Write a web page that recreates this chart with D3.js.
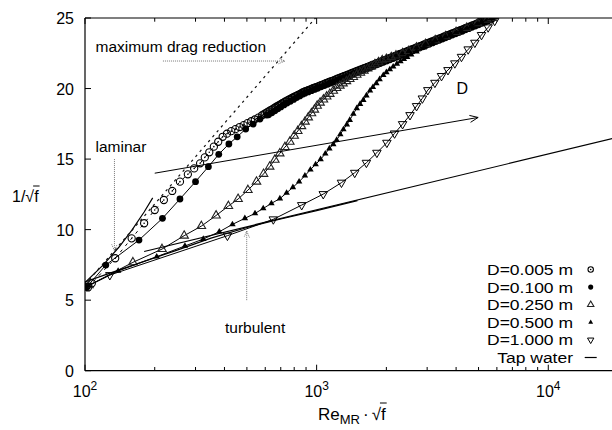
<!DOCTYPE html>
<html>
<head>
<meta charset="utf-8">
<title>Drag reduction</title>
<script src="https://d3js.org/d3.v7.min.js"></script>
<style>
  body { margin: 0; background: #fff; }
  text { font-family: "Liberation Sans", Arial, sans-serif; fill: #000; }
</style>
</head>
<body>
<svg id="chart" width="612" height="430"></svg>
<script>
// each point: [Re_MR * sqrt(f), 1/sqrt(f)]
var d005 = [[103,5.9],[107,6.2],[135,7.97],[159,9.38],[180,10.45],[200,11.39],[219,12.1],[238,12.74],[257,13.4],[278,13.92],
  [296,14.34],[314,14.7],[329,15.12],[344,15.48],[360,15.88],[376,16.23],[393,16.58],[410,16.8],[428,16.98],[446,17.12],
  [465,17.27],[484,17.41],[503,17.55],[522,17.68],[541,17.81],[560,17.94],[580,18.1],[590,18.17],[600,18.24],[610,18.31],
  [620,18.38],[630,18.45],[640,18.51],[650,18.58],[660,18.64],[670,18.71],[680,18.77],[690,18.83],[700,18.89],[711,18.96],
  [722,19.02],[733,19.08],[745,19.14],[757,19.21],[770,19.27],[782,19.33],[795,19.39],[807,19.45],[820,19.5],[832,19.55],
  [845,19.6],[857,19.66],
  [870,19.72],[880,19.75],[890,19.79],[905,19.84],[920,19.88],[935,19.93],[950,19.97],[965,20.02],[980,20.06],[995,20.1],
  [1010,20.14],[1027,20.19],[1045,20.24],[1062,20.28],[1080,20.33],[1097,20.38],[1115,20.42],[1132,20.47],[1150,20.51],[1170,20.55],
  [1190,20.6],[1210,20.65],[1230,20.7],[1250,20.74],[1270,20.79],[1290,20.83],[1310,20.87],[1332,20.92],[1355,20.97],[1377,21.01],
  [1400,21.06],[1422,21.1],[1445,21.15],[1470,21.2],[1495,21.25],[1520,21.29],[1545,21.34],[1570,21.38],[1595,21.43],[1622,21.47],
  [1650,21.52],[1677,21.56],[1705,21.61],[1732,21.65],[1760,21.7],[1790,21.75],[1820,21.8],[1850,21.84],[1880,21.89],[1910,21.93],
  [1940,21.98],[1972,22.02],[2005,22.07],[2037,22.11],[2070,22.16],[2105,22.2],[2140,22.25],[2175,22.29],[2210,22.34],[2245,22.38],
  [2280,22.43],[2320,22.48],[2360,22.53],[2400,22.57],[2440,22.62],[2480,22.66],[2520,22.71],[2560,22.75],[2600,22.8],[2645,22.85],
  [2690,22.9],[2735,22.94],[2780,22.99],[2825,23.03],[2870,23.08],[2915,23.12],[2960,23.17],[3010,23.21],[3060,23.26],[3110,23.3],
  [3160,23.35],[3215,23.4],[3270,23.45],[3325,23.49],[3380,23.54],[3435,23.58],[3490,23.63],[3545,23.67],[3600,23.72],[3660,23.76],
  [3720,23.81],[3785,23.86],[3850,23.91],[3915,23.95],[3980,24.0],[4045,24.04],[4110,24.09],[4180,24.13],[4250,24.18],[4320,24.23],
  [4390,24.28],[4460,24.32],[4530,24.36],[4605,24.41],[4680,24.46],[4760,24.5],[4840,24.55],[4920,24.6],[5000,24.64],[5085,24.69],
  [5170,24.74],[5255,24.78],[5340,24.83],[5425,24.87],[5510,24.92],[5600,24.96],[5690,25.01]];
var d100 = [[102,5.95],[123,7.49],[171,9.26],[216,10.8],[257,12.17],[300,13.4],[341,14.46],[378,15.34],[418,16.07],[454,16.58],
  [494,17.13],[532,17.48],[569,17.84],[609,18.12],[620,18.14],[640,18.28],[660,18.42],[680,18.56],[700,18.7],[722,18.84],
  [745,18.97],[770,19.1],[795,19.23],[820,19.36],[845,19.48],[870,19.6],[890,19.67],[920,19.76],[950,19.85],[980,19.94],
  [1010,20.02],[1045,20.12],[1080,20.21],[1115,20.3],[1150,20.39],[1190,20.48],[1230,20.58],[1270,20.67],[1310,20.75],[1355,20.85],
  [1400,20.94],[1445,21.03],[1495,21.13],[1545,21.22],[1595,21.31],[1650,21.4],[1705,21.49],[1760,21.58],[1820,21.68],[1880,21.77],
  [1940,21.86],[2005,21.95],[2070,22.04],[2140,22.13],[2210,22.22],[2280,22.31],[2360,22.41],[2440,22.5],[2520,22.59],[2600,22.68],
  [2690,22.78],[2780,22.87],[2870,22.96],[2960,23.05],[3060,23.14],[3160,23.23],[3270,23.33],[3380,23.42],[3490,23.51],[3600,23.6],
  [3720,23.69],[3850,23.79],[3980,23.88],[4110,23.97],[4250,24.06],[4390,24.16],[4530,24.24],[4680,24.34],[4840,24.43],[5000,24.52],
  [5170,24.62],[5340,24.71],[5510,24.8],[5690,24.9]];
var d250 = [[104,6.05],[161,7.68],[215,8.62],[268,9.57],[318,10.25],[368,11.0],[416,11.67],[458,12.17],[505,12.8],[550,13.4],
  [590,13.95],[627,14.46],[660,14.95],[693,15.4],[730,15.85],[766,16.23],[800,16.65],[829,16.99],[860,17.33],[891,17.65],
  [920,17.95],[950,18.24],[978,18.5],[1005,18.78],[1035,19.0],[1070,19.22],[1105,19.43],[1140,19.62],[1180,19.84],[1220,20.03],
  [1260,20.2],[1300,20.36],[1345,20.52],[1390,20.67],[1440,20.82],[1490,20.97],[1545,21.12],[1600,21.27],[1660,21.42],[1720,21.57],
  [1785,21.72],[1850,21.86],[1920,22.0],[2000,22.1],[2100,22.22],[2200,22.34],[2350,22.5],[2500,22.66],[2700,22.9],[2950,23.15],
  [3250,23.42],[3600,23.7],[4000,24.0],[4450,24.3],[4950,24.62],[5450,24.88],[5700,25.0]];
var d500 = [[101,5.95],[139,7.07],[204,8.08],[270,8.84],[324,9.33],[380,9.85],[433,10.37],[490,10.8],[542,11.15],[588,11.5],
  [638,11.86],[694,12.2],[742,12.6],[790,13.0],[840,13.4],[890,13.82],[940,14.25],[990,14.62],[1040,14.98],[1090,15.38],
  [1135,15.75],[1180,16.05],[1220,16.35],[1265,16.75],[1305,17.1],[1350,17.45],[1390,17.77],[1440,18.2],[1490,18.6],[1540,18.9],
  [1590,19.18],[1640,19.5],[1700,19.85],[1750,20.1],[1810,20.37],[1870,20.65],[1940,20.95],[2000,21.15],[2070,21.35],[2140,21.55],
  [2220,21.75],[2300,21.93],[2380,22.08],[2460,22.22],[2560,22.4],[2700,22.62],[2900,22.9],[3150,23.2],[3450,23.5],[3800,23.8],
  [4200,24.1],[4650,24.4],[5150,24.7],[5700,25.0]];
var d1000 = [[103,6.0],[128,6.78],[412,9.57],[650,10.73],[862,11.74],[1068,12.52],[1280,13.33],[1460,14.03],[1640,14.74],[1820,15.45],
  [2010,16.16],[2170,16.82],[2350,17.48],[2530,18.12],[2700,18.76],[2860,19.3],[3020,19.89],[3240,20.41],[3460,20.89],[3690,21.31],
  [3950,21.79],[4220,22.25],[4510,22.78],[4820,23.25],[5150,23.8],[5500,24.34],[5870,24.8]];
var tapWater = [[100,6.3],[130,6.95],[180,7.75],[250,8.55],[350,9.4],[500,10.15],[700,10.75],[1000,11.35],[1500,12.05]];
var laminar = [[100,6.25],[120,7.5],[140,8.75],[160,10.0],[180,11.25],[196,12.25]];
var turbulent = [[180,8.45],[20000,16.55]];
var mdr = [[100,6.1],[1000,25.1]];

var xTicks = [100, 1000, 10000];
var xExp = ["2", "3", "4"];
var xMinor = [200,300,400,500,600,700,800,900,2000,3000,4000,5000,6000,7000,8000,9000];
var yTicks = [0, 5, 10, 15, 20, 25];
var legendLabels = ["D=0.005 m", "D=0.100 m", "D=0.250 m", "D=0.500 m", "D=1.000 m", "Tap water"];

// annotations in data units
var notes = [
  {text: "maximum drag reduction", x: 111, y: 22.57},
  {text: "laminar", x: 111, y: 15.52},
  {text: "turbulent", x: 402, y: 2.64},
  {text: "D", x: 4018, y: 19.61}
];
var pointerArrows = [
  [[217, 21.95], [730, 21.95]],
  [[134, 15.0], [134, 8.5]],
  [[499, 5.0], [499, 9.9]]
];
var dArrow = [[200, 14.0], [4980, 17.95]];

var svg = d3.select("#chart");
var x = d3.scaleLog().domain([100, 20000]).range([85, 618]);
var y = d3.scaleLinear().domain([0, 25]).range([370.7, 18]);
var line = d3.line().x(function(d) { return x(d[0]); }).y(function(d) { return y(d[1]); });

svg.append("defs").append("clipPath").attr("id", "clip")
  .append("rect").attr("x", 85).attr("y", 18).attr("width", 540).attr("height", 352.7);

// axes frame
svg.append("line").attr("x1", 85).attr("x2", 85).attr("y1", 18).attr("y2", 370.7).attr("stroke", "#000").attr("stroke-width", 1.2);
svg.append("line").attr("x1", 85).attr("x2", 612).attr("y1", 370.7).attr("y2", 370.7).attr("stroke", "#000").attr("stroke-width", 1.2);
svg.append("line").attr("x1", 85).attr("x2", 612).attr("y1", 18).attr("y2", 18).attr("stroke", "#000").attr("stroke-width", 1.2);

var ticks = svg.append("g").attr("stroke", "#000").attr("stroke-width", 1);
yTicks.forEach(function(t) {
  ticks.append("line").attr("x1", 85).attr("x2", 91).attr("y1", y(t)).attr("y2", y(t));
  svg.append("text").attr("x", 74).attr("y", y(t) + 6).attr("text-anchor", "end")
    .attr("font-size", 16).text(t);
});
xTicks.forEach(function(t, i) {
  ticks.append("line").attr("x1", x(t)).attr("x2", x(t)).attr("y1", 370.7).attr("y2", 364.7);
  ticks.append("line").attr("x1", x(t)).attr("x2", x(t)).attr("y1", 18).attr("y2", 24);
  var lab = svg.append("text").attr("x", x(t)).attr("y", 397).attr("text-anchor", "middle").attr("font-size", 16);
  lab.append("tspan").text("10");
  lab.append("tspan").attr("dy", -7).attr("font-size", 12).text(xExp[i]);
});
xMinor.forEach(function(t) {
  ticks.append("line").attr("x1", x(t)).attr("x2", x(t)).attr("y1", 370.7).attr("y2", 367);
  ticks.append("line").attr("x1", x(t)).attr("x2", x(t)).attr("y1", 18).attr("y2", 21.7);
});

// axis titles
var yl = svg.append("text").attr("x", 12).attr("y", 202).attr("font-size", 16).text("1/\u221Af");
var fx = yl.node().getStartPositionOfChar(3).x;
var fw = yl.node().getSubStringLength(3, 1);
svg.append("line").attr("x1", fx - 1).attr("x2", fx + fw + 1).attr("y1", 186).attr("y2", 186).attr("stroke", "#000");

var xl = svg.append("text").attr("x", 318).attr("y", 420).attr("font-size", 17);
xl.append("tspan").text("Re");
xl.append("tspan").attr("dy", 4).attr("font-size", 13).text("MR");
xl.append("tspan").attr("dy", -4).attr("dx", 3).text("\u00B7");
xl.append("tspan").attr("dx", 3).text("\u221Af");
var n = xl.text().length;
var fx2 = xl.node().getStartPositionOfChar(n - 1).x;
var fw2 = xl.node().getSubStringLength(n - 1, 1);
svg.append("line").attr("x1", fx2 - 1).attr("x2", fx2 + fw2 + 1).attr("y1", 403).attr("y2", 403).attr("stroke", "#000");

var plot = svg.append("g").attr("clip-path", "url(#clip)");

// reference lines
plot.append("path").datum(laminar).attr("d", line).attr("fill", "none").attr("stroke", "#000").attr("stroke-width", 1.2);
plot.append("path").datum(turbulent).attr("d", line).attr("fill", "none").attr("stroke", "#000").attr("stroke-width", 1.2);
plot.append("path").datum(mdr).attr("d", line).attr("fill", "none").attr("stroke", "#111")
  .attr("stroke-width", 1.2).attr("stroke-dasharray", "2.5,4");
plot.append("path").datum(tapWater).attr("d", line).attr("fill", "none").attr("stroke", "#000").attr("stroke-width", 1.2);

// marker shapes
function tri(s, dir) {
  var h = s * 0.866;
  return "M0," + (-dir * h * 2 / 3) + "L" + (s / 2) + "," + (dir * h / 3) + "L" + (-s / 2) + "," + (dir * h / 3) + "Z";
}
function drawMarker(g, kind, big) {
  var k = big ? 1 : 0.75;
  if (kind === 0) {
    g.append("circle").attr("r", 3.6 * k).attr("fill", "none").attr("stroke", "#000").attr("stroke-width", 1.1);
    g.append("circle").attr("r", 0.8).attr("fill", "#000");
  } else if (kind === 1) {
    g.append("circle").attr("r", 3.4 * k).attr("fill", "#000");
  } else if (kind === 2) {
    g.append("path").attr("d", tri(8.5 * k, 1)).attr("fill", "none").attr("stroke", "#222").attr("stroke-width", 1.1);
  } else if (kind === 3) {
    g.append("path").attr("d", tri(6.5 * k, 1)).attr("fill", "#000");
  } else if (kind === 4) {
    g.append("path").attr("d", tri(8.5 * k, -1)).attr("fill", "none").attr("stroke", "#000").attr("stroke-width", 1);
  }
}

var series = [d005, d100, d250, d500, d1000];
series.forEach(function(data, i) {
  var p = plot.append("path").datum(data).attr("d", line).attr("fill", "none")
    .attr("stroke", "#000").attr("stroke-width", 1);
  if (i === 0) p.attr("stroke-dasharray", "3,5");
  plot.selectAll(null).data(data).enter().append("g")
    .attr("transform", function(d) { return "translate(" + x(d[0]) + "," + y(d[1]) + ")"; })
    .each(function() { drawMarker(d3.select(this), i, true); });
});

// annotations
notes.forEach(function(d) {
  svg.append("text").attr("x", x(d.x)).attr("y", y(d.y)).attr("font-size", d.text === "D" ? 16 : 15.5).text(d.text);
});
function headAt(g, p0, p1, size, color, dash) {
  var ang = Math.atan2(p1[1] - p0[1], p1[0] - p0[0]);
  var a1 = ang + Math.PI - 0.4, a2 = ang + Math.PI + 0.4;
  g.append("path").attr("d", "M" + (p1[0] + size * Math.cos(a1)) + "," + (p1[1] + size * Math.sin(a1)) +
    "L" + p1[0] + "," + p1[1] + "L" + (p1[0] + size * Math.cos(a2)) + "," + (p1[1] + size * Math.sin(a2)))
    .attr("fill", "none").attr("stroke", color).attr("stroke-width", 1).attr("stroke-dasharray", dash);
}
var arrows = svg.append("g");
pointerArrows.forEach(function(a) {
  var p0 = [x(a[0][0]), y(a[0][1])], p1 = [x(a[1][0]), y(a[1][1])];
  arrows.append("line").attr("x1", p0[0]).attr("y1", p0[1]).attr("x2", p1[0]).attr("y2", p1[1])
    .attr("stroke", "#777").attr("stroke-width", 1).attr("stroke-dasharray", "1,1");
  headAt(arrows, p0, p1, 7, "#777", "1,1");
});
var q0 = [x(dArrow[0][0]), y(dArrow[0][1])], q1 = [x(dArrow[1][0]), y(dArrow[1][1])];
arrows.append("line").attr("x1", q0[0]).attr("y1", q0[1]).attr("x2", q1[0]).attr("y2", q1[1])
  .attr("stroke", "#000").attr("stroke-width", 1);
headAt(arrows, q0, q1, 9, "#000", null);

// legend (glyphs stretched a little so the rows keep the reference width without overlapping)
var legend = svg.append("g");
legendLabels.forEach(function(lab, i) {
  var by = 275 + 17.6 * i;
  var t = legend.append("text").attr("x", 573).attr("y", by).attr("text-anchor", "end").attr("font-size", 15.2).text(lab);
  var w = t.node().getComputedTextLength();
  t.attr("textLength", w * 1.15).attr("lengthAdjust", "spacingAndGlyphs");
  var g = legend.append("g").attr("transform", "translate(590.7," + (by - 5.5) + ")");
  if (i < 5) drawMarker(g, i, false);
  else g.append("line").attr("x1", -6).attr("x2", 6).attr("stroke", "#000").attr("stroke-width", 1.2);
});
</script>
</body>
</html>
